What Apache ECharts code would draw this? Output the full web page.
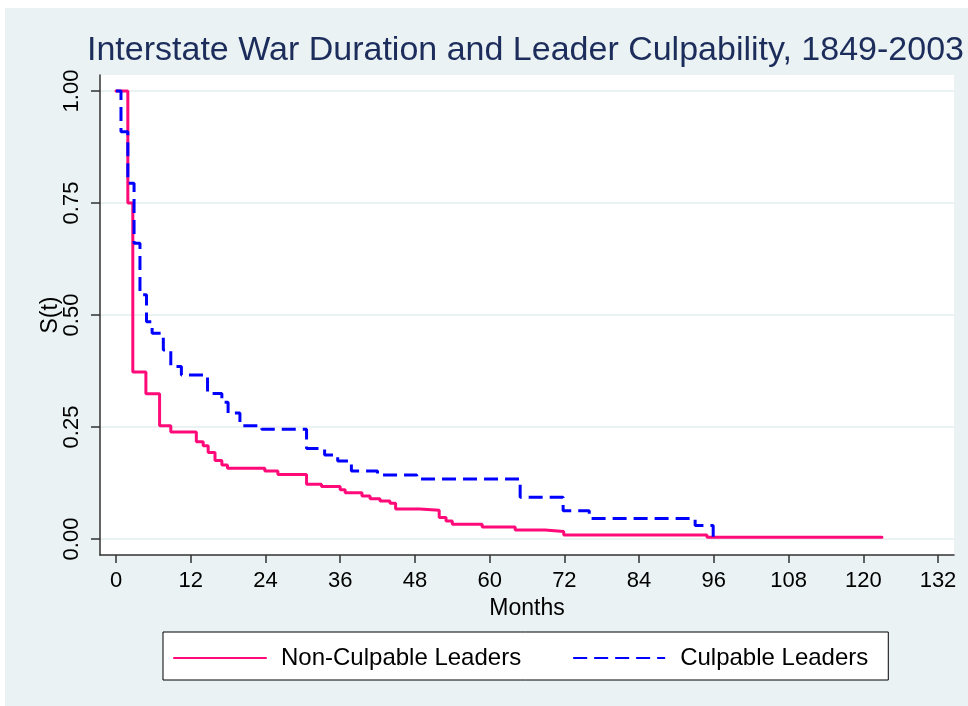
<!DOCTYPE html>
<html>
<head>
<meta charset="utf-8">
<script src="https://cdn.jsdelivr.net/npm/echarts@6/dist/echarts.min.js"></script>
<style>
html,body{margin:0;padding:0;background:#ffffff;}
#chart{width:968px;height:706px;}
</style>
</head>
<body>
<div id="chart"></div>
<script>
// ---- data (Kaplan-Meier step curves) ----
var titleText = 'Interstate War Duration and Leader Culpability, 1849-2003';
var seriesNames = ['Non-Culpable Leaders', 'Culpable Leaders'];

var nonCulpTime = [0, 1.9, 2.7, 4.8, 7.0, 8.8, 12.9, 14.0, 14.8, 15.9, 17.0, 17.9, 23.9, 26.0, 30.6, 33.0, 36.0, 36.8, 39.5, 40.8, 42.4, 44.0, 44.9, 48.8, 51.9, 53.0, 54.0, 58.8, 64.1, 68.9, 71.9, 94.9, 123.0];
var nonCulpSurv = [1.0, 0.75, 0.373, 0.324, 0.253, 0.239, 0.217, 0.208, 0.193, 0.175, 0.165, 0.158, 0.152, 0.144, 0.122, 0.117, 0.110, 0.103, 0.096, 0.090, 0.085, 0.080, 0.067, 0.064, 0.048, 0.040, 0.033, 0.027, 0.020, 0.017, 0.009, 0.004, 0.004];

var culpTime = [0, 0.8, 1.9, 2.9, 3.85, 4.9, 5.8, 7.6, 8.8, 10.5, 14.7, 17.0, 18.0, 19.9, 23.4, 30.6, 33.5, 35.6, 37.8, 42.0, 48.3, 64.9, 71.8, 76.0, 93.0, 95.9];
var culpSurv = [1.0, 0.909, 0.794, 0.66, 0.545, 0.485, 0.459, 0.422, 0.385, 0.366, 0.325, 0.305, 0.281, 0.253, 0.245, 0.202, 0.1875, 0.174, 0.152, 0.143, 0.134, 0.093, 0.063, 0.046, 0.030, 0.0];

var xTicks = [0, 12, 24, 36, 48, 60, 72, 84, 96, 108, 120, 132];
var yTicks = [0, 0.25, 0.5, 0.75, 1.0];
var xAxisTitle = 'Months';
var yAxisTitle = 'S(t)';

function pairs(t, s) {
  var out = [];
  for (var i = 0; i < t.length; i++) out.push([t[i], s[i]]);
  return out;
}

// plot-region padding beyond the tick range (Stata style)
var xPad = 16 / (822 / 132);
var yPad = 16 / 448;

var FONT = '"Liberation Sans", Arial, Helvetica, sans-serif';
var chart = echarts.init(document.getElementById('chart'), null, {renderer: 'canvas'});
chart.setOption({
  animation: false,
  backgroundColor: '#ffffff',
  graphic: [{
    type: 'rect', z: -10, silent: true,
    shape: {x: 5, y: 8, width: 963, height: 698},
    style: {fill: '#eaf2f3'}
  }],
  title: {
    text: titleText,
    left: 87, top: 34, padding: 0,
    textStyle: {fontFamily: FONT, fontSize: 34, fontWeight: 'normal', color: '#1c2d5c'}
  },
  legend: {
    data: seriesNames,
    left: 163, top: 632,
    padding: [14, 20, 10, 10],
    itemGap: 51,
    itemWidth: 92, itemHeight: 14,
    itemStyle: {opacity: 0},
    backgroundColor: '#ffffff',
    borderColor: '#000000', borderWidth: 1,
    textStyle: {fontFamily: FONT, fontSize: 24, color: '#000000', padding: [0, 0, 0, 10]}
  },
  grid: {
    left: 100, right: 14, top: 75, bottom: 151,
    show: true, backgroundColor: '#ffffff', borderWidth: 0
  },
  xAxis: {
    type: 'value',
    min: -xPad, max: 132 + xPad,
    name: xAxisTitle, nameLocation: 'middle', nameGap: 42,
    nameTextStyle: {fontFamily: FONT, fontSize: 23, color: '#000000'},
    axisLine: {show: true, onZero: false, lineStyle: {color: '#333333', width: 1.5}},
    axisTick: {show: true, length: 8, customValues: xTicks, lineStyle: {color: '#333333', width: 1.5}},
    axisLabel: {show: true, customValues: xTicks, margin: 15, fontFamily: FONT, fontSize: 22, color: '#000000'},
    splitLine: {show: false}
  },
  yAxis: {
    type: 'value',
    min: -yPad, max: 1 + yPad,
    name: yAxisTitle, nameLocation: 'middle', nameGap: 38, nameRotate: 90,
    nameMoveOverlap: false,
    nameTextStyle: {fontFamily: FONT, fontSize: 23, color: '#000000'},
    axisLine: {show: true, onZero: false, lineStyle: {color: '#333333', width: 1.5}},
    axisTick: {show: true, length: 9, customValues: yTicks, lineStyle: {color: '#333333', width: 1.5}},
    axisLabel: {show: true, customValues: yTicks, rotate: 90, margin: 17, fontFamily: FONT, fontSize: 22, color: '#000000',
      formatter: function (v) { return v.toFixed(2); }},
    splitLine: {show: true, lineStyle: {color: '#eaf2f3', width: 2}}
  },
  series: [{
    name: seriesNames[0],
    type: 'line', step: 'end', symbol: 'none', showSymbol: false,
    data: pairs(nonCulpTime, nonCulpSurv),
    lineStyle: {color: '#ff0a78', width: 3, cap: 'round'},
    itemStyle: {color: '#ff0a78'},
    z: 2
  }, {
    name: seriesNames[1],
    type: 'line', step: 'end', symbol: 'none', showSymbol: false,
    data: pairs(culpTime, culpSurv),
    lineStyle: {color: '#0000ff', width: 3, type: [14, 7]},
    itemStyle: {color: '#0000ff'},
    z: 3
  }]
});
</script>
</body>
</html>
